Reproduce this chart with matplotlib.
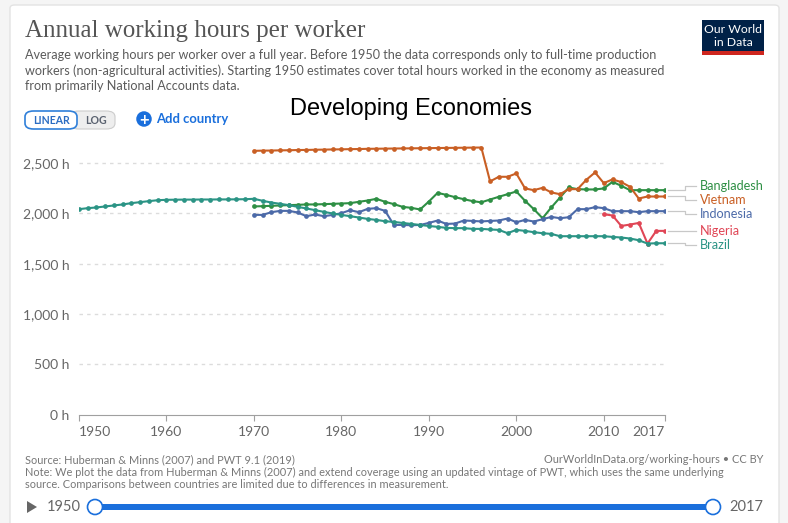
import numpy as np
import matplotlib
matplotlib.use("Agg")
import matplotlib.pyplot as plt
from matplotlib.patches import FancyBboxPatch, Rectangle, Ellipse, Polygon

W, H = 788, 523

# ---- data (hours per worker) ----
brazil_years = list(range(1950, 2018))
brazil = [2042, 2052, 2059, 2069, 2079, 2089, 2102, 2112, 2122, 2131,
          2135, 2136, 2137, 2137, 2138, 2138, 2139, 2139, 2140, 2141,
          2145, 2125, 2108, 2095, 2082, 2065, 2049, 2032, 2015, 1999,
          1985, 1972, 1959, 1945, 1935, 1922, 1915, 1905, 1895, 1885,
          1875, 1866, 1856, 1853, 1853, 1846, 1846, 1840, 1836, 1803,
          1836, 1826, 1813, 1803, 1796, 1773, 1773, 1773, 1773, 1773,
          1773, 1766, 1760, 1750, 1733, 1700, 1703, 1703]

vietnam_years = list(range(1970, 2018))
vietnam = [2622, 2624, 2625, 2627, 2628, 2630, 2631, 2633, 2634, 2636,
           2637, 2639, 2640, 2642, 2643, 2644, 2645, 2646, 2647, 2648,
           2649, 2650, 2651, 2652, 2653, 2654, 2655, 2318, 2364, 2364,
           2397, 2248, 2231, 2254, 2208, 2191, 2241, 2241, 2334, 2407,
           2301, 2338, 2311, 2264, 2148, 2168, 2168, 2168]

bangladesh_years = list(range(1970, 2018))
bangladesh = [2069, 2072, 2075, 2079, 2082, 2085, 2089, 2089, 2092, 2095,
              2098, 2102, 2115, 2128, 2145, 2115, 2092, 2065, 2055, 2039,
              2118, 2204, 2184, 2161, 2141, 2122, 2110, 2138, 2165, 2191,
              2218, 2125, 2042, 1952, 2059, 2158, 2258, 2241, 2238, 2238,
              2248, 2314, 2274, 2231, 2231, 2231, 2231, 2231]

indonesia_years = list(range(1970, 2018))
indonesia = [1985, 1985, 2012, 2025, 2025, 2009, 1972, 1989, 1972, 1985,
             2002, 2032, 2012, 2045, 2052, 2025, 1885, 1885, 1882, 1885,
             1905, 1929, 1895, 1899, 1929, 1925, 1920, 1925, 1929, 1949,
             1912, 1935, 1919, 1942, 1965, 1952, 1962, 2042, 2042, 2062,
             2052, 2022, 2022, 2022, 2012, 2022, 2022, 2022]

nigeria_years = list(range(2010, 2018))
nigeria = [1992, 1979, 1875, 1889, 1905, 1700, 1826, 1826]

countries = ["Bangladesh", "Vietnam", "Indonesia", "Nigeria", "Brazil"]
series = {
    "Bangladesh": (bangladesh_years, bangladesh),
    "Vietnam": (vietnam_years, vietnam),
    "Indonesia": (indonesia_years, indonesia),
    "Nigeria": (nigeria_years, nigeria),
    "Brazil": (brazil_years, brazil),
}
colors = {
    "Bangladesh": "#2e8f44",
    "Vietnam": "#c95f24",
    "Indonesia": "#4c6aa8",
    "Nigeria": "#e04656",
    "Brazil": "#2b9485",
}
# vertical nudge of the end labels (hours) so they don't collide
label_nudge = {"Bangladesh": 42, "Vietnam": -35, "Indonesia": -28,
               "Nigeria": 0, "Brazil": -17}

yticks = [0, 500, 1000, 1500, 2000, 2500]
ytick_labels = ["0 h", "500 h", "1,000 h", "1,500 h", "2,000 h", "2,500 h"]
xticks = [1950, 1960, 1970, 1980, 1990, 2000, 2010, 2017]

sans = ["Lato", "DejaVu Sans"]
plt.rcParams["font.family"] = sans


def fx(x):
    return x / W


def fy(y):
    return 1 - y / H


fig = plt.figure(figsize=(W / 100, H / 100), dpi=100)
fig.patch.set_facecolor("#f5f5f5")

# white card (behind everything)
card = FancyBboxPatch((fx(10), fy(540)), fx(769), 535 / H,
                      boxstyle="round,pad=0,rounding_size=0.006",
                      transform=fig.transFigure, facecolor="white",
                      edgecolor="#e3e3e3", linewidth=1, zorder=-10)
fig.patches.append(card)

# ---- main axes ----
ax = fig.add_axes([fx(79), fy(414.5), fx(665 - 79), 271.5 / H])
ax.set_facecolor("none")
ax.set_zorder(2)
ax.set_xlim(1950, 2017)
ax.set_ylim(0, 2700)

for c in countries:
    yrs, vals = series[c]
    ax.plot(yrs, vals, color=colors[c], lw=1.5, marker="o", ms=3.4,
            mew=0, zorder=3)

ax.set_yticks(yticks)
ax.set_yticklabels(ytick_labels)
ax.set_xticks(xticks)
ax.set_xticklabels([str(t) for t in xticks])
for y in yticks[1:]:
    ax.axhline(y, color="#dcdcdc", lw=1, dashes=(2.5, 3), zorder=1)

for s in ["top", "right", "left"]:
    ax.spines[s].set_visible(False)
ax.spines["bottom"].set_color("#a0a0a0")
ax.tick_params(axis="y", length=0, pad=7, labelsize=10, labelcolor="#666666")
ax.tick_params(axis="x", length=4, color="#a0a0a0", pad=4, labelsize=10,
               labelcolor="#666666")
xl = ax.get_xticklabels()
xl[0].set_ha("left")
xl[-1].set_ha("right")

# end labels with elbow connectors
for c in countries:
    yrs, vals = series[c]
    last = vals[-1]
    ly = last + label_nudge[c]
    ax.plot([2017.35, 2019.3, 2019.3, 2020.6], [last, last, ly, ly],
            color="#c8c8c8", lw=0.9, clip_on=False, zorder=2)
    ax.text(2021.0, ly, c, color=colors[c], fontsize=9.1, va="center",
            ha="left", clip_on=False)

# ---- header ----
fig.text(fx(25), fy(31), "Annual working hours per worker",
         family=["Liberation Serif", "DejaVu Serif"], fontsize=18,
         color="#555555", va="center", ha="left")
sub_lines = [
    "Average working hours per worker over a full year. Before 1950 the data corresponds only to full-time production",
    "workers (non-agricultural activities). Starting 1950 estimates cover total hours worked in the economy as measured",
    "from primarily National Accounts data.",
]
for i, line in enumerate(sub_lines):
    fig.text(fx(25), fy(55 + 15.3 * i), line, fontsize=9.1, color="#5b5b5b",
             va="center", ha="left")

fig.text(fx(411), fy(109), "Developing Economies",
         family=["Liberation Sans", "DejaVu Sans"], fontsize=17,
         color="black", va="center", ha="center")

# LINEAR / LOG toggle
log_btn = FancyBboxPatch((fx(70), fy(129)), fx(45), 18 / H,
                         boxstyle="round,pad=0,rounding_size=0.011",
                         transform=fig.transFigure, facecolor="#eeeeee",
                         edgecolor="#cccccc", linewidth=0.8)
lin_btn = FancyBboxPatch((fx(25), fy(129)), fx(52), 18 / H,
                         boxstyle="round,pad=0,rounding_size=0.011",
                         transform=fig.transFigure, facecolor="white",
                         edgecolor="#2f7fd9", linewidth=1.2)
fig.patches.extend([log_btn, lin_btn])
fig.text(fx(51.5), fy(120), "LINEAR", fontsize=7.6, weight="bold",
         color="#2a6cc2", ha="center", va="center")
fig.text(fx(96), fy(120), "LOG", fontsize=7.6, weight="bold",
         color="#5a6270", ha="center", va="center")

# Add country
fig.patches.append(Ellipse((fx(144), fy(119)), 15.5 / W, 15.5 / H,
                           transform=fig.transFigure, facecolor="#1a6fdc",
                           edgecolor="none"))
fig.text(fx(144), fy(119.5), "+", fontsize=12, weight="bold", color="white",
         ha="center", va="center")
fig.text(fx(156), fy(119), "Add country", fontsize=9.4, weight="bold",
         color="#1a6fdc", ha="left", va="center")

# OWID logo
fig.patches.append(Rectangle((fx(702), fy(55)), fx(62), 35 / H,
                             transform=fig.transFigure,
                             facecolor="#002147", edgecolor="none"))
fig.patches.append(Rectangle((fx(702), fy(55)), fx(62), 4 / H,
                             transform=fig.transFigure,
                             facecolor="#ce261e", edgecolor="none"))
fig.text(fx(733), fy(29.5), "Our World", fontsize=8.8, color="white",
         ha="center", va="center")
fig.text(fx(733), fy(43), "in Data", fontsize=8.8, color="white",
         ha="center", va="center")

# ---- footer ----
foot_lines = [
    "Source: Huberman & Minns (2007) and PWT 9.1 (2019)",
    "Note: We plot the data from Huberman & Minns (2007) and extend coverage using an updated vintage of PWT, which uses the same underlying",
    "source. Comparisons between countries are limited due to differences in measurement.",
]
for i, line in enumerate(foot_lines):
    fig.text(fx(25), fy(459.5 + 12.5 * i), line, fontsize=7.9,
             color="#777777", va="center", ha="left")
fig.text(fx(763), fy(459.5), "OurWorldInData.org/working-hours \u2022 CC BY",
         fontsize=7.9, color="#777777", va="center", ha="right")

# timeline slider
fig.patches.append(Polygon([(fx(27), fy(501)), (fx(27), fy(513)),
                            (fx(37), fy(507))], closed=True,
                           transform=fig.transFigure, facecolor="#666666",
                           edgecolor="none"))
fig.text(fx(47), fy(507), "1950", fontsize=10.5, color="#666666",
         ha="left", va="center")
fig.text(fx(729), fy(507), "2017", fontsize=10.5, color="#666666",
         ha="left", va="center")
fig.patches.append(Rectangle((fx(95), fy(510)), fx(618), 6 / H,
                             transform=fig.transFigure,
                             facecolor="#1a6fdc", edgecolor="none"))
for cx in (95, 713):
    fig.patches.append(Ellipse((fx(cx), fy(507)), 15 / W, 15 / H,
                               transform=fig.transFigure, facecolor="white",
                               edgecolor="#1a6fdc", linewidth=1.2))

fig.savefig("out.png", dpi=100, facecolor=fig.get_facecolor())
